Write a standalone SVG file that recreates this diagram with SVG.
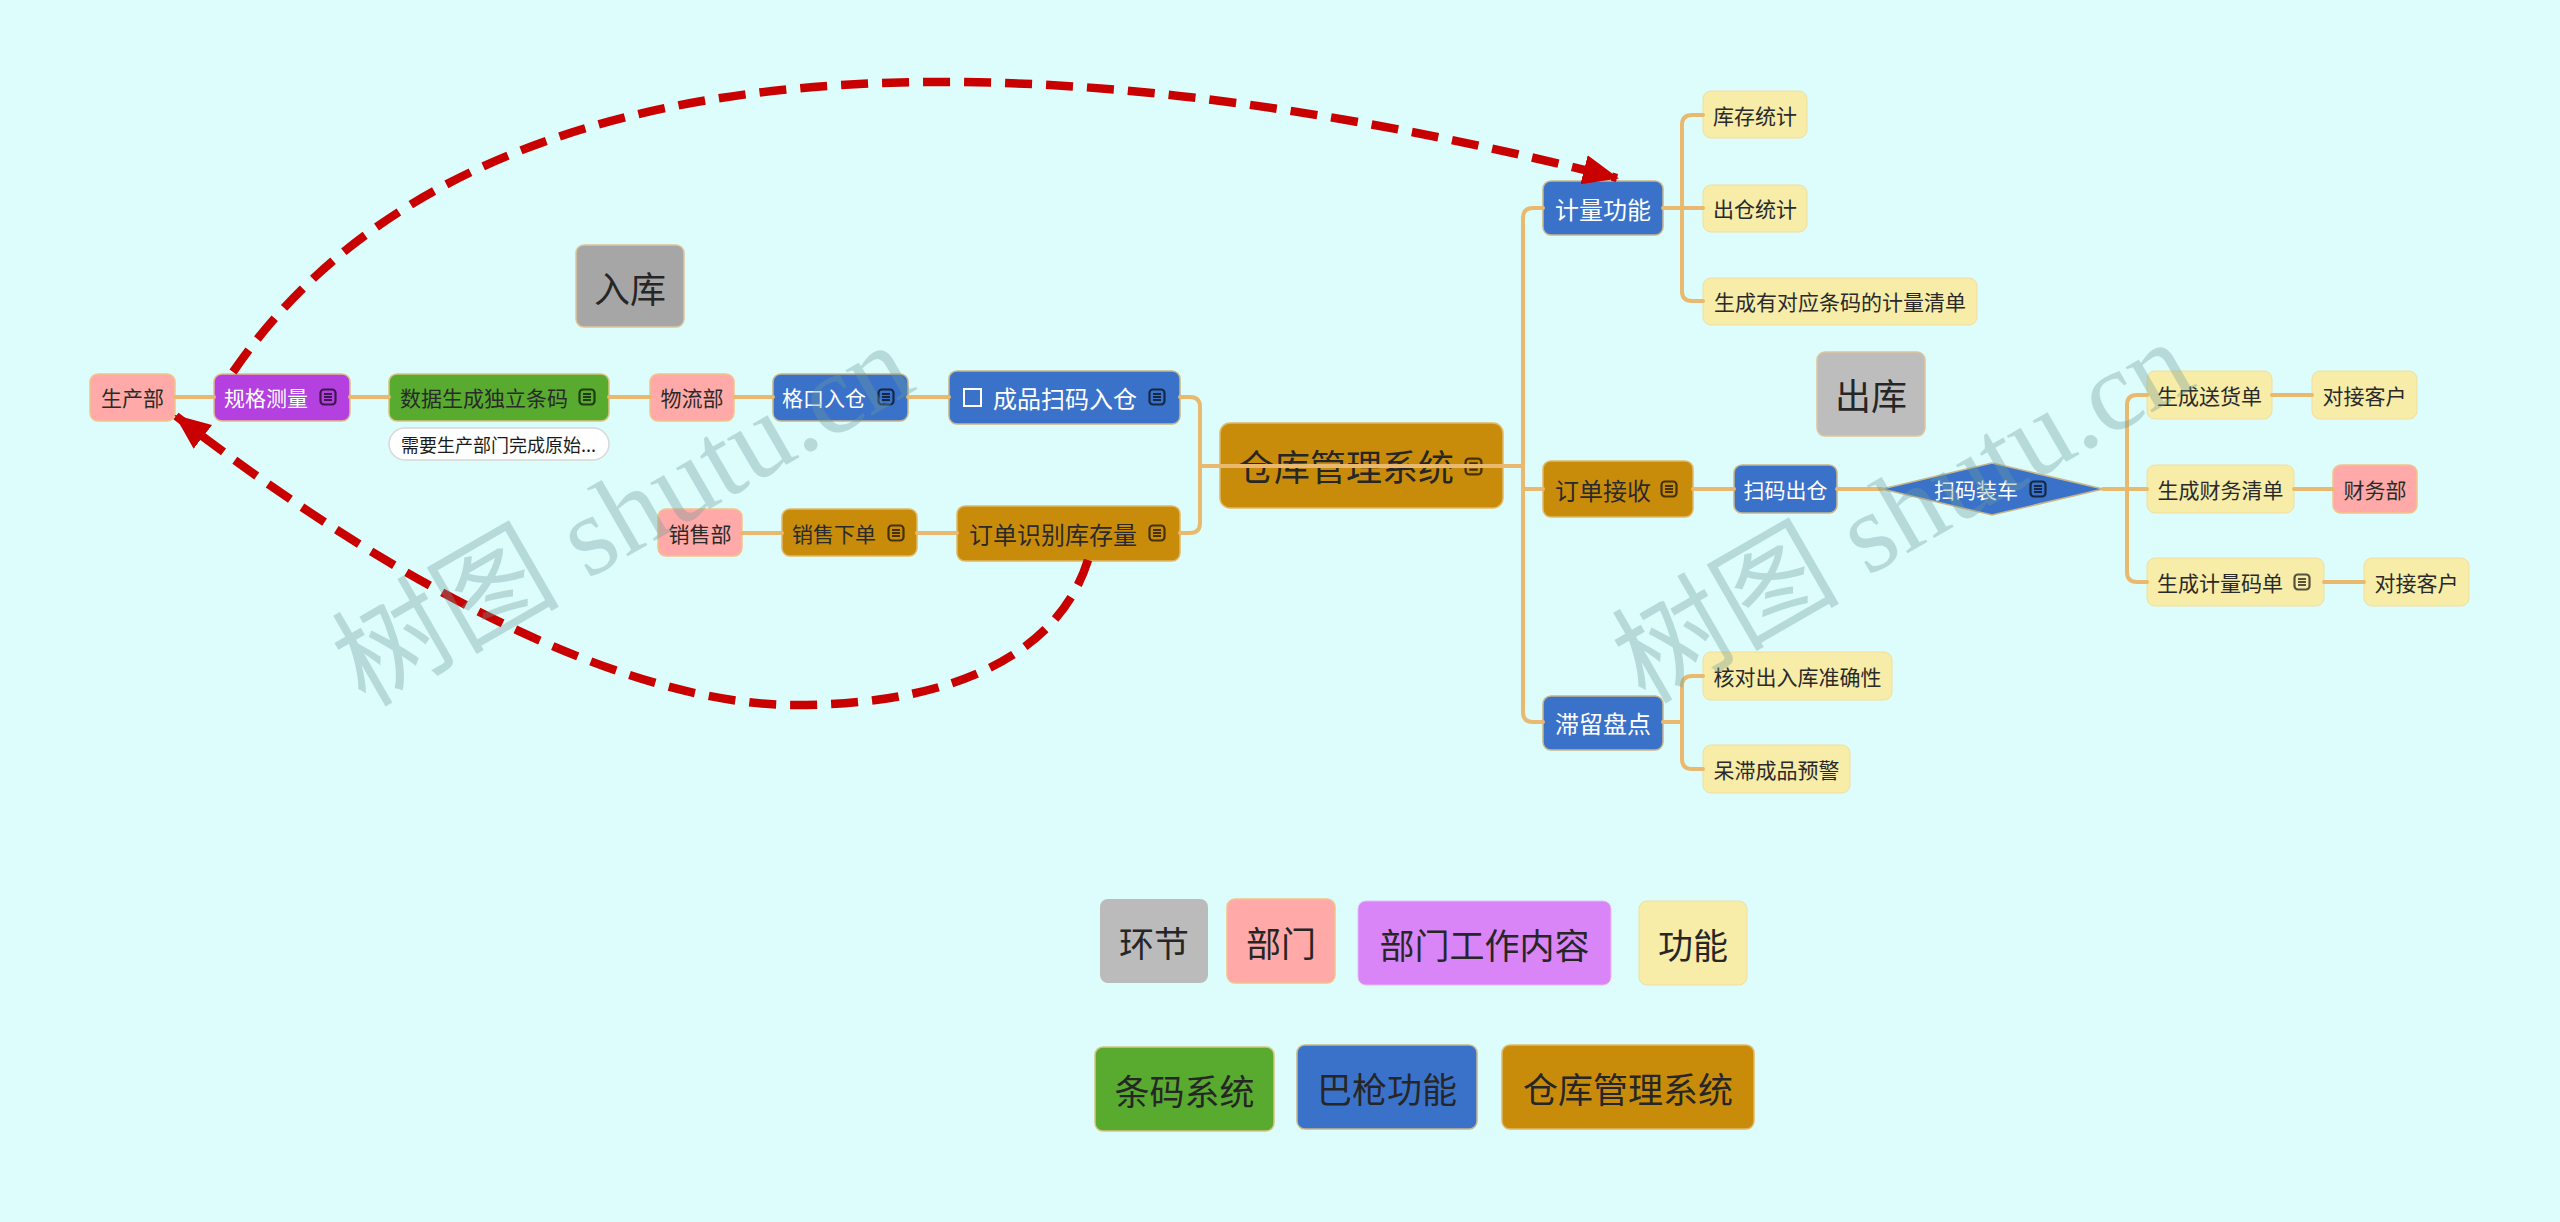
<svg xmlns="http://www.w3.org/2000/svg" width="2560" height="1222" viewBox="0 0 2560 1222">
<defs>
<style>
text{font-family:"Noto Sans CJK SC","Noto Sans",sans-serif;dominant-baseline:central;}
.t21{font-size:21px;fill:#2a2a2a}
.t24{font-size:24px;fill:#2a2a2a}
.w{fill:#ffffff}
.c{text-anchor:middle}
.big{font-size:36px;fill:#262626}
.leg{font-size:35px;fill:#262626}
.pink{fill:#ffaaa8;stroke:#f2c48a;stroke-width:1.5}
.purple{fill:#b440e0;stroke:#e2b98a;stroke-width:1.5}
.green{fill:#58ab2f;stroke:#d9c27e;stroke-width:1.5}
.blue{fill:#3a72c9;stroke:#c9b58a;stroke-width:1.5}
.gold{fill:#c98c0a;stroke:#e0b86a;stroke-width:1.5}
.yellow{fill:#f7eca8;stroke:#f2dea0;stroke-width:1}
.gray1{fill:#a6a6a6;stroke:#e0c49a;stroke-width:1.5}
.gray2{fill:#bdbdbd;stroke:#e0c49a;stroke-width:1.5}
.violet{fill:#d985f8;stroke:#e8b8f8;stroke-width:1}
.note{fill:#ffffff;stroke:#d8d8d8;stroke-width:1.5}
.ln{fill:none;stroke:#e8b96e;stroke-width:4;stroke-linecap:round}
.dash{fill:none;stroke:#c80000;stroke-width:8.5;stroke-dasharray:27 14}
.wm{font-family:"Liberation Serif","Noto Sans CJK SC",serif;font-size:114px;fill:#6f9c9c;opacity:0.35;dominant-baseline:auto}
</style>
<symbol id="ic" viewBox="0 0 18 18">
<rect x="1.5" y="1.5" width="15" height="15" rx="3.5" fill="none" stroke="#000" stroke-opacity="0.65" stroke-width="2.2"/>
<path d="M5 6H13M5 9H13M5 12H13" stroke="#000" stroke-opacity="0.65" stroke-width="2"/>
</symbol>
<marker id="ah" markerUnits="userSpaceOnUse" markerWidth="40" markerHeight="32" refX="34" refY="15" orient="auto">
<path d="M0,0 L36,15 L0,30 Z" fill="#c80000"/>
</marker>
</defs>
<rect width="2560" height="1222" fill="#dcfdfb"/>

<g id="n-shengchanbu"><rect class="pink" x="90" y="374" width="85" height="47" rx="8"/><text class="t21 c" x="132.5" y="397">生产部</text></g>
<g id="n-guige"><rect class="purple" x="214" y="374" width="136" height="47" rx="8"/><text class="t21 w" x="224" y="397">规格测量</text><use href="#ic" x="319" y="388" width="18" height="18"/></g>
<g id="n-shuju"><rect class="green" x="389" y="374" width="220" height="47" rx="8"/><text class="t21" x="400" y="397">数据生成独立条码</text><use href="#ic" x="578" y="388" width="18" height="18"/></g>
<g id="n-note"><rect class="note" x="389" y="428" width="220" height="32" rx="16"/><text style="font-size:18px;fill:#1a1a1a" x="401" y="444">需要生产部门完成原始...</text></g>
<g id="n-wuliu"><rect class="pink" x="650" y="374" width="84" height="47" rx="8"/><text class="t21 c" x="692" y="397">物流部</text></g>
<g id="n-gekou"><rect class="blue" x="773" y="374" width="135" height="47" rx="8"/><text class="t21 w" x="782" y="397">格口入仓</text><use href="#ic" x="877" y="388" width="18" height="18"/></g>
<g id="n-chengpin"><rect class="blue" x="949" y="371" width="231" height="53" rx="8"/><rect x="964" y="389" width="17" height="17" fill="none" stroke="#ffffff" stroke-width="2"/><text class="t24 w" x="993" y="397">成品扫码入仓</text><use href="#ic" x="1148" y="388" width="18" height="18"/></g>
<g id="n-xiaoshoubu"><rect class="pink" x="658" y="509" width="84" height="47" rx="8"/><text class="t21 c" x="700" y="533">销售部</text></g>
<g id="n-xiaoshouxiadan"><rect class="gold" x="782" y="509" width="135" height="47" rx="8"/><text class="t21" x="792" y="533">销售下单</text><use href="#ic" x="887" y="524" width="18" height="18"/></g>
<g id="n-dingdan"><rect class="gold" x="957" y="506" width="223" height="55" rx="8"/><text class="t24" x="969" y="533">订单识别库存量</text><use href="#ic" x="1148" y="524" width="18" height="18"/></g>
<g id="n-root"><rect class="gold" x="1220" y="423" width="283" height="85" rx="10"/><text class="big" x="1238" y="465">仓库管理系统</text><use href="#ic" x="1464" y="457" width="19" height="19"/></g>
<g id="n-ruku"><rect class="gray1" x="576" y="245" width="108" height="82" rx="8"/><text class="big c" x="630" y="287">入库</text></g>

<g id="n-jiliang"><rect class="blue" x="1543" y="181" width="120" height="54" rx="8"/><text class="t24 w c" x="1603" y="208">计量功能</text></g>
<g id="n-kucun"><rect class="yellow" x="1703" y="91" width="104" height="47" rx="8"/><text class="t21 c" x="1755" y="115">库存统计</text></g>
<g id="n-chucang"><rect class="yellow" x="1703" y="185" width="104" height="47" rx="8"/><text class="t21 c" x="1755" y="208">出仓统计</text></g>
<g id="n-qingdan"><rect class="yellow" x="1703" y="278" width="274" height="47" rx="8"/><text class="t21 c" x="1840" y="301">生成有对应条码的计量清单</text></g>
<g id="n-chuku"><rect class="gray2" x="1817" y="352" width="108" height="84" rx="8"/><text class="big c" x="1871" y="394">出库</text></g>
<g id="n-jieshou"><rect class="gold" x="1543" y="461" width="150" height="56" rx="8"/><text class="t24" x="1555" y="489">订单接收</text><use href="#ic" x="1660" y="480" width="18" height="18"/></g>
<g id="n-saomachucang"><rect class="blue" x="1734" y="465" width="103" height="48" rx="8"/><text class="t21 w c" x="1785.5" y="489">扫码出仓</text></g>
<g id="n-zhuangche"><polygon points="1882,489 1992,463 2103,489 1992,515" fill="#3a72c9" stroke="#c9b58a" stroke-width="1.5"/><text class="t21 w" x="1934" y="489">扫码装车</text><use href="#ic" x="2029" y="480" width="18" height="18"/></g>
<g id="n-songhuodan"><rect class="yellow" x="2147" y="371" width="125" height="48" rx="8"/><text class="t21 c" x="2209.5" y="395">生成送货单</text></g>
<g id="n-kehu1"><rect class="yellow" x="2312" y="371" width="105" height="48" rx="8"/><text class="t21 c" x="2364.5" y="395">对接客户</text></g>
<g id="n-caiwuqingdan"><rect class="yellow" x="2147" y="465" width="147" height="48" rx="8"/><text class="t21 c" x="2220.5" y="489">生成财务清单</text></g>
<g id="n-caiwubu"><rect class="pink" x="2333" y="465" width="84" height="48" rx="8"/><text class="t21 c" x="2375" y="489">财务部</text></g>
<g id="n-mada"><rect class="yellow" x="2147" y="558" width="177" height="48" rx="8"/><text class="t21" x="2157" y="582">生成计量码单</text><use href="#ic" x="2293" y="573" width="18" height="18"/></g>
<g id="n-kehu2"><rect class="yellow" x="2364" y="558" width="105" height="48" rx="8"/><text class="t21 c" x="2416.5" y="582">对接客户</text></g>
<g id="n-zhiliu"><rect class="blue" x="1543" y="696" width="120" height="54" rx="8"/><text class="t24 w c" x="1603" y="722">滞留盘点</text></g>
<g id="n-hedui"><rect class="yellow" x="1703" y="652" width="189" height="48" rx="8"/><text class="t21 c" x="1797.5" y="676">核对出入库准确性</text></g>
<g id="n-yujing"><rect class="yellow" x="1703" y="745" width="147" height="48" rx="8"/><text class="t21 c" x="1776.5" y="769">呆滞成品预警</text></g>

<g id="legend">
<g id="lg-huanjie"><rect fill="#bbbbbb" x="1100" y="899" width="108" height="84" rx="8"/><text class="leg c" x="1154" y="941">环节</text></g>
<g id="lg-bumen"><rect class="pink" x="1227" y="899" width="108" height="84" rx="8"/><text class="leg c" x="1281" y="941">部门</text></g>
<g id="lg-gongzuo"><rect class="violet" x="1358" y="901" width="253" height="84" rx="8"/><text class="leg c" x="1484.5" y="943">部门工作内容</text></g>
<g id="lg-gongneng"><rect class="yellow" x="1639" y="901" width="108" height="84" rx="8"/><text class="leg c" x="1693" y="943">功能</text></g>
<g id="lg-tiaoma"><rect class="green" x="1095" y="1047" width="179" height="84" rx="8"/><text class="leg c" x="1184.5" y="1089">条码系统</text></g>
<g id="lg-baqiang"><rect class="blue" x="1297" y="1045" width="180" height="84" rx="8"/><text class="leg c w" x="1387" y="1087">巴枪功能</text></g>
<g id="lg-cangku"><rect class="gold" x="1502" y="1045" width="252" height="84" rx="8"/><text class="leg c" x="1628" y="1087">仓库管理系统</text></g>
</g>

<g id="connectors">
<path class="ln" d="M175 397H214M350 397H389M609 397H650M734 397H773M908 397H949"/>
<path class="ln" d="M742 533H782M917 533H957"/>
<path class="ln" d="M1180 397H1190Q1200 397 1200 407V523Q1200 533 1190 533H1180M1200 466H1523"/>
<path class="ln" d="M1543 208H1533Q1523 208 1523 218V712Q1523 722 1533 722H1543M1523 489H1543"/>
<path class="ln" d="M1663 208H1703M1703 115H1692Q1682 115 1682 125V291Q1682 301 1692 301H1703"/>
<path class="ln" d="M1663 722H1682M1703 676H1692Q1682 676 1682 686V759Q1682 769 1692 769H1703"/>
<path class="ln" d="M1693 489H1734M1837 489H1882M2103 489H2147"/>
<path class="ln" d="M2147 395H2137Q2127 395 2127 405V572Q2127 582 2137 582H2147"/>
<path class="ln" d="M2272 395H2312M2294 489H2333M2324 582H2364"/>
<path class="dash" d="M233 372C500 -18 1150 60 1617 178" marker-end="url(#ah)"/>
<path class="dash" d="M1088 560C1060 650 960 705 795 705C630 705 400 590 176 416" marker-end="url(#ah)"/>
</g>

<g id="watermarks">
<text class="wm" x="365" y="708" transform="rotate(-30 365 708)">树图 shutu.cn</text>
<text class="wm" x="1645" y="705" transform="rotate(-30 1645 705)">树图 shutu.cn</text>
</g>
</svg>
